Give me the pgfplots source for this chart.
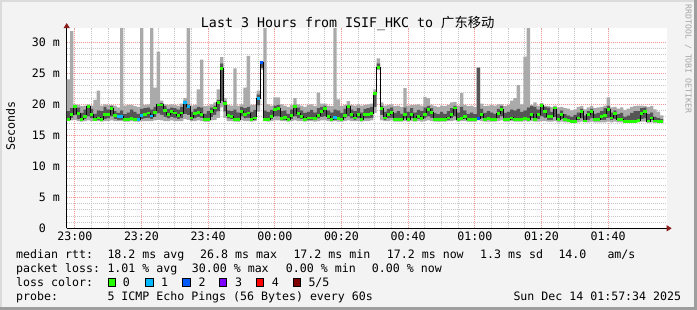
\documentclass[border=0pt]{standalone}
\usepackage{fontspec}
\setmainfont{DejaVu Sans Mono}
\newfontfamily\cjk{Noto Sans CJK SC}
\usepackage{pgfplots}
\usepackage{pgfplotstable}
\usetikzlibrary{arrows.meta}
\pgfplotsset{compat=1.18}
\definecolor{bg}{HTML}{F3F3F3}
\definecolor{mgrid}{HTML}{F09A9A}
\definecolor{gridc}{HTML}{C8C8C8}
\definecolor{smokeL}{HTML}{AAAAAA}
\definecolor{smokeD}{HTML}{555555}
\definecolor{lzero}{HTML}{26FF00}
\definecolor{lone}{HTML}{00B8FF}
\definecolor{ltwo}{HTML}{0059FF}
\definecolor{lthree}{HTML}{7E00FF}
\definecolor{lfour}{HTML}{FF0000}
\definecolor{lfive}{HTML}{7F0000}
\definecolor{arrowred}{HTML}{8A1C1C}
\newcommand\lgfont{\fontsize{11.6}{14}\selectfont}

\pgfplotstableread{
i lo p2 med p4 hi c
0 17.3 17.5 17.6 18.9 24.0 0
1 17.4 17.8 18.3 19.4 31.8 0
2 17.5 18.2 19.6 19.8 20.0 0
3 17.3 17.6 18.5 19.5 19.9 0
4 17.2 17.4 17.6 18.6 19.7 0
5 17.3 17.6 18.0 19.2 19.8 0
6 17.4 18.0 19.6 19.7 20.0 0
7 17.3 17.7 18.3 19.3 19.8 0
8 17.3 17.4 17.6 18.5 20.7 0
9 17.3 17.5 17.8 19.0 22.2 0
10 17.2 17.4 17.6 18.9 19.8 0
11 17.3 17.6 18.3 19.6 20.0 0
12 17.3 17.7 18.3 19.2 19.9 0
13 17.4 18.0 19.3 19.7 19.9 0
14 17.3 17.6 18.2 18.9 19.8 0
15 17.3 17.5 18.0 18.6 19.5 1
16 17.3 17.5 18.0 19.0 33.0 1
17 17.2 17.4 17.6 18.4 19.8 0
18 17.2 17.4 17.6 18.7 19.9 0
19 17.3 17.5 17.7 19.2 19.9 0
20 17.2 17.4 17.6 18.8 19.7 0
21 17.2 17.3 17.5 18.5 19.6 1
22 17.3 17.6 18.2 19.3 33.0 1
23 17.3 17.7 18.4 19.4 19.9 0
24 17.3 17.8 18.6 19.5 20.0 0
25 17.3 17.6 18.1 19.2 33.0 1
26 17.4 17.9 18.7 19.6 22.7 0
27 17.5 18.5 19.9 20.1 28.5 0
28 17.4 18.3 19.9 20.2 20.6 0
29 17.3 17.9 19.0 19.7 20.0 0
30 17.3 17.7 18.3 19.3 19.9 0
31 17.4 17.9 18.8 19.5 20.0 0
32 17.3 17.8 18.6 19.4 19.9 0
33 17.3 17.6 18.2 19.2 19.8 0
34 17.3 17.8 18.6 19.6 20.1 0
35 17.6 18.4 20.3 20.6 21.0 1
36 17.5 18.2 19.6 20.0 33.0 1
37 17.3 17.5 17.8 18.8 19.8 0
38 17.3 17.7 18.5 19.3 19.9 0
39 17.4 17.9 18.7 19.6 22.4 0
40 17.3 17.8 18.4 19.5 27.2 0
41 17.2 17.3 17.5 18.5 19.7 0
42 17.2 17.3 17.5 18.9 19.8 0
43 17.4 17.9 18.8 19.5 20.0 0
44 17.5 18.3 19.4 19.8 20.3 0
45 17.8 18.8 20.3 20.7 22.4 0
46 19.5 20.5 25.8 26.6 27.6 0
47 17.8 18.8 20.1 20.5 21.0 0
48 17.3 17.7 18.2 19.0 19.9 0
49 17.3 17.6 18.0 18.9 19.8 0
50 17.2 17.4 17.6 19.2 25.8 0
51 17.2 17.3 17.5 18.7 19.8 0
52 17.4 18.0 18.9 19.6 20.0 0
53 17.3 17.7 18.3 19.4 22.7 0
54 17.3 17.8 18.6 19.6 27.8 0
55 17.2 17.4 17.6 18.8 19.9 0
56 17.3 17.5 17.8 19.1 19.9 0
57 18.8 19.8 20.9 21.6 22.2 1
58 25.6 25.8 26.8 26.9 27.0 2
59 17.3 17.4 17.6 19.0 33.0 0
60 17.2 17.4 17.5 18.8 20.0 0
61 17.3 17.6 18.0 19.1 19.8 0
62 17.4 18.0 19.2 19.8 21.1 0
63 17.4 18.0 19.3 19.9 21.1 0
64 17.3 17.5 17.7 18.9 20.0 0
65 17.3 17.5 17.9 19.0 19.8 0
66 17.2 17.4 17.6 18.5 19.6 0
67 17.3 17.6 18.2 19.2 19.9 0
68 17.4 18.0 19.6 19.9 21.0 0
69 17.3 17.7 18.5 19.5 20.0 0
70 17.3 17.6 18.0 19.0 19.8 0
71 17.2 17.4 17.6 18.6 19.6 0
72 17.3 17.5 17.8 18.8 19.9 0
73 17.3 17.5 17.8 19.1 20.0 0
74 17.2 17.4 17.7 18.7 19.7 0
75 17.3 17.7 18.2 19.4 21.9 0
76 17.4 17.9 18.9 19.6 20.1 0
77 17.4 18.0 19.3 19.8 20.1 0
78 17.3 17.6 18.0 19.0 19.8 0
79 17.2 17.4 17.6 18.7 19.7 0
80 17.3 17.5 17.9 19.2 33.0 1
81 17.2 17.4 17.7 19.0 20.8 0
82 17.2 17.4 17.6 18.6 19.7 0
83 17.3 17.7 18.2 19.3 19.9 0
84 17.4 18.0 19.6 19.9 20.5 0
85 17.3 17.7 18.3 19.2 19.9 0
86 17.3 17.5 17.8 18.9 19.8 0
87 17.3 17.7 18.4 19.4 20.0 0
88 17.2 17.4 17.6 18.7 19.8 0
89 17.3 17.7 18.3 19.3 19.9 0
90 17.3 17.7 18.3 19.4 20.0 0
91 17.4 17.8 18.5 19.6 20.1 0
92 18.6 19.6 21.7 22.0 22.4 0
93 25.5 25.7 25.9 26.6 27.4 0
94 17.4 18.2 19.3 19.8 20.3 0
95 17.3 17.5 17.8 18.8 19.8 0
96 17.3 17.7 18.3 19.3 19.9 0
97 17.4 17.8 18.7 19.5 20.0 0
98 17.2 17.4 17.6 18.6 19.7 0
99 17.2 17.4 17.6 18.9 19.8 0
100 17.2 17.4 17.6 18.5 19.6 0
101 17.3 17.7 18.3 19.5 22.6 0
102 17.2 17.4 17.6 18.8 19.8 0
103 17.3 17.7 18.4 19.4 19.9 0
104 17.2 17.4 17.6 18.7 19.9 0
105 17.3 17.6 18.0 19.1 20.0 0
106 17.2 17.4 17.7 18.9 19.8 0
107 17.3 17.7 18.3 19.5 21.2 0
108 17.4 18.0 19.2 19.8 21.0 0
109 17.3 17.8 18.7 19.4 19.9 0
110 17.2 17.4 17.6 18.6 19.7 0
111 17.2 17.3 17.5 18.4 19.6 0
112 17.2 17.4 17.6 18.8 19.8 0
113 17.2 17.4 17.6 18.5 19.7 0
114 17.3 17.5 17.8 18.9 19.9 0
115 17.3 17.7 18.3 19.4 20.3 0
116 17.4 18.0 19.4 19.8 20.4 0
117 17.2 17.4 17.6 18.7 19.8 0
118 17.3 17.5 17.7 19.6 21.8 0
119 17.3 17.6 18.0 19.0 19.9 0
120 17.2 17.3 17.5 18.5 19.7 0
121 17.2 17.3 17.5 18.7 19.8 0
122 17.2 17.3 17.5 18.4 19.6 0
123 17.4 17.6 17.7 25.9 25.9 2
124 17.3 17.7 18.3 19.3 20.1 0
125 17.2 17.4 17.6 18.6 19.7 0
126 17.2 17.4 17.7 18.9 19.8 0
127 17.2 17.4 17.6 18.7 19.9 0
128 17.2 17.4 17.6 18.5 19.8 0
129 17.3 17.7 18.5 19.3 20.0 0
130 17.4 18.0 19.2 19.7 20.0 0
131 17.2 17.4 17.6 18.6 19.7 0
132 17.2 17.4 17.6 18.8 19.9 0
133 17.3 17.5 17.8 19.2 20.6 0
134 17.2 17.4 17.6 19.0 21.0 0
135 17.2 17.4 17.6 19.3 23.1 0
136 17.2 17.4 17.6 18.8 20.0 0
137 17.3 17.5 17.7 19.0 27.7 0
138 17.2 17.4 17.6 19.5 33.0 0
139 17.3 17.7 18.3 19.7 19.9 0
140 17.2 17.4 17.6 19.6 20.3 0
141 17.2 17.6 18.3 19.2 19.8 0
142 17.3 18.0 19.8 20.0 20.2 0
143 17.3 17.8 18.8 19.6 19.8 0
144 17.2 17.5 18.0 19.5 19.7 0
145 17.2 17.5 18.0 18.8 19.6 0
146 17.3 17.9 19.4 19.6 19.8 0
147 17.1 17.3 17.6 18.5 19.5 0
148 17.2 17.6 18.3 19.0 19.6 0
149 17.1 17.3 17.6 18.4 19.4 0
150 17.1 17.2 17.45 18.2 19.3 0
151 17.0 17.1 17.2 18.0 19.0 0
152 17.0 17.1 17.2 18.3 19.2 0
153 17.1 17.4 17.8 18.7 19.6 0
154 17.2 17.7 18.8 19.3 19.7 0
155 17.1 17.2 17.3 18.2 19.2 0
156 17.1 17.5 18.3 18.9 19.5 0
157 17.2 17.7 18.8 19.3 19.7 0
158 17.1 17.3 17.55 18.5 19.4 0
159 17.1 17.3 17.55 18.6 19.5 0
160 17.1 17.4 18.0 18.9 19.6 0
161 17.1 17.5 18.2 19.4 19.8 0
162 17.2 17.8 19.1 19.8 21.1 0
163 17.1 17.4 17.8 18.7 19.5 0
164 17.2 17.6 18.5 19.0 19.6 0
165 17.1 17.3 17.55 18.4 19.3 0
166 17.1 17.3 17.55 18.6 19.5 0
167 17.0 17.1 17.2 18.0 19.1 0
168 17.0 17.1 17.2 18.2 19.3 0
169 17.0 17.1 17.2 18.6 19.6 0
170 17.0 17.1 17.2 18.9 19.7 0
171 17.1 17.2 17.45 18.9 19.8 0
172 17.2 17.6 18.5 19.4 19.8 0
173 17.2 17.7 18.8 19.5 19.7 0
174 17.0 17.1 17.3 18.4 19.6 0
175 17.1 17.4 17.8 18.7 19.7 0
176 17.0 17.1 17.3 18.0 19.2 0
177 17.0 17.1 17.2 17.8 18.8 0
178 17.0 17.1 17.2 17.6 18.2 0
179 17.0 17.1 17.2 17.6 18.2 9
}\data

\pgfplotsset{
  samegeom/.style={
    at={(66.7pt,81.7pt)}, anchor=south west,
    scale only axis, width=600pt, height=200.26pt,
    xmin=-2.43, xmax=177.57, ymin=0, ymax=32.3,
  },
  seg/.style={quiver={u=1, v=0}, restrict y to domain=0:100, unbounded coords=discard, line width=2.8pt},
}

\begin{document}
\begin{tikzpicture}[x=1pt,y=1pt]
\fill[bg] (0,0) rectangle (697,310);
\fill[black!14] (0,308) rectangle (697,310);
\fill[black!14] (0,0) rectangle (2,310);
\fill[black!38] (694,0) rectangle (697,310);
\fill[black!38] (0,0) rectangle (697,3);

\begin{axis}[
  samegeom,
  axis background/.style={fill=white},
  axis x line=bottom, axis y line=left,
  x axis line style={black, line width=1pt, shorten >=-5pt, -{Triangle[length=5pt,width=6pt,color=arrowred]}},
  y axis line style={black, line width=1pt, shorten >=-5pt, -{Triangle[length=5pt,width=6pt,color=arrowred]}},
  xtick={0,20,...,160},
  xticklabels={23:00,23:20,23:40,00:00,00:20,00:40,01:00,01:20,01:40},
  ytick={0,5,...,30},
  yticklabels={0\hphantom{mm},5 m,10 m,15 m,20 m,25 m,30 m},
  minor x tick num=3, minor y tick num=4,
  major tick length=0pt, minor tick length=0pt,
  grid=both,
  major grid style={mgrid, dash pattern=on 1pt off 1pt, line width=0.7pt},
  minor grid style={gridc, dash pattern=on 1pt off 1pt, line width=0.7pt},
  tick label style={font=\lgfont, inner sep=0pt},
  xticklabel style={anchor=base, yshift=-12.7pt},
  yticklabel style={anchor=base east, xshift=-6.7pt, yshift=-4.2pt},
  stack plots=y,
]
\addplot[draw=none, fill=none, const plot] table[x expr=\thisrow{i}-2.43, y=lo] {\data};
\addplot[draw=none, fill=smokeL, const plot] table[x expr=\thisrow{i}-2.43, y expr=\thisrow{p2}-\thisrow{lo}] {\data} \closedcycle;
\addplot[draw=none, fill=smokeD, const plot] table[x expr=\thisrow{i}-2.43, y expr=\thisrow{p4}-\thisrow{p2}] {\data} \closedcycle;
\addplot[draw=none, fill=smokeL, const plot] table[x expr=\thisrow{i}-2.43, y expr=\thisrow{hi}-\thisrow{p4}] {\data} \closedcycle;
\end{axis}

\begin{axis}[samegeom, axis lines=none, xtick=\empty, ytick=\empty]
\addplot[const plot, black, line width=0.9pt, mark=none] table[x expr=\thisrow{i}-2.43, y=med] {\data};
\addplot[lzero, seg] table[x expr=\thisrow{i}-2.43, y expr=\thisrow{med}+1000*abs(\thisrow{c})] {\data};
\addplot[lone, seg] table[x expr=\thisrow{i}-2.43, y expr=\thisrow{med}+1000*abs(\thisrow{c}-1)] {\data};
\addplot[ltwo, seg] table[x expr=\thisrow{i}-2.43, y expr=\thisrow{med}+1000*abs(\thisrow{c}-2)] {\data};
\end{axis}

% title, axis label, side text
\node[anchor=base, inner sep=0pt, font=\fontsize{13.3}{16}\selectfont] at (347.7,282.7) {Last 3 Hours from ISIF\_HKC to {\cjk 广东移动}};
\node[rotate=90, inner sep=0pt, font=\lgfont] at (10.5,184) {Seconds};
\node[rotate=-90, inner sep=0pt, font=\fontsize{8.2}{10}\selectfont, text=black!35] at (688.3,251) {RRDTOOL / TOBI OETIKER};

% legend
\tikzset{lg/.style={anchor=base west, inner sep=0pt, font=\lgfont}}
\node[lg] at (16,51.5) {median rtt:};
\node[lg] at (107.3,51.5) {18.2 ms avg};
\node[lg] at (200,51.5) {26.8 ms max};
\node[lg] at (293.3,51.5) {17.2 ms min};
\node[lg] at (386.7,51.5) {17.2 ms now};
\node[lg] at (480,51.5) {1.3 ms sd};
\node[lg] at (558.3,51.5) {14.0};
\node[lg] at (607.3,51.5) {am/s};

\node[lg] at (16,37.5) {packet loss:};
\node[lg] at (107.3,37.5) {1.01 \% avg};
\node[lg] at (191.7,37.5) {30.00 \% max};
\node[lg] at (285.7,37.5) {0.00 \% min};
\node[lg] at (371.7,37.5) {0.00 \% now};

\node[lg] at (16,23.5) {loss color:};
\filldraw[fill=lzero, draw=black, line width=0.6pt] (108.3,24) rectangle (115.7,31.7);
\node[lg] at (122.7,23.5) {0};
\filldraw[fill=lone, draw=black, line width=0.6pt] (145.7,24) rectangle (153.1,31.7);
\node[lg] at (161,23.5) {1};
\filldraw[fill=ltwo, draw=black, line width=0.6pt] (182.7,24) rectangle (190.1,31.7);
\node[lg] at (198.3,23.5) {2};
\filldraw[fill=lthree, draw=black, line width=0.6pt] (219.3,24) rectangle (226.7,31.7);
\node[lg] at (235,23.5) {3};
\filldraw[fill=lfour, draw=black, line width=0.6pt] (256,24) rectangle (263.4,31.7);
\node[lg] at (271.7,23.5) {4};
\filldraw[fill=lfive, draw=black, line width=0.6pt] (293.3,24) rectangle (300.7,31.7);
\node[lg] at (308.3,23.5) {5/5};

\node[lg] at (16,9.5) {probe:};
\node[lg] at (107.3,9.5) {5 ICMP Echo Pings (56 Bytes) every 60s};
\node[lg] at (513.3,9.5) {Sun Dec 14 01:57:34 2025};
\end{tikzpicture}
\end{document}
